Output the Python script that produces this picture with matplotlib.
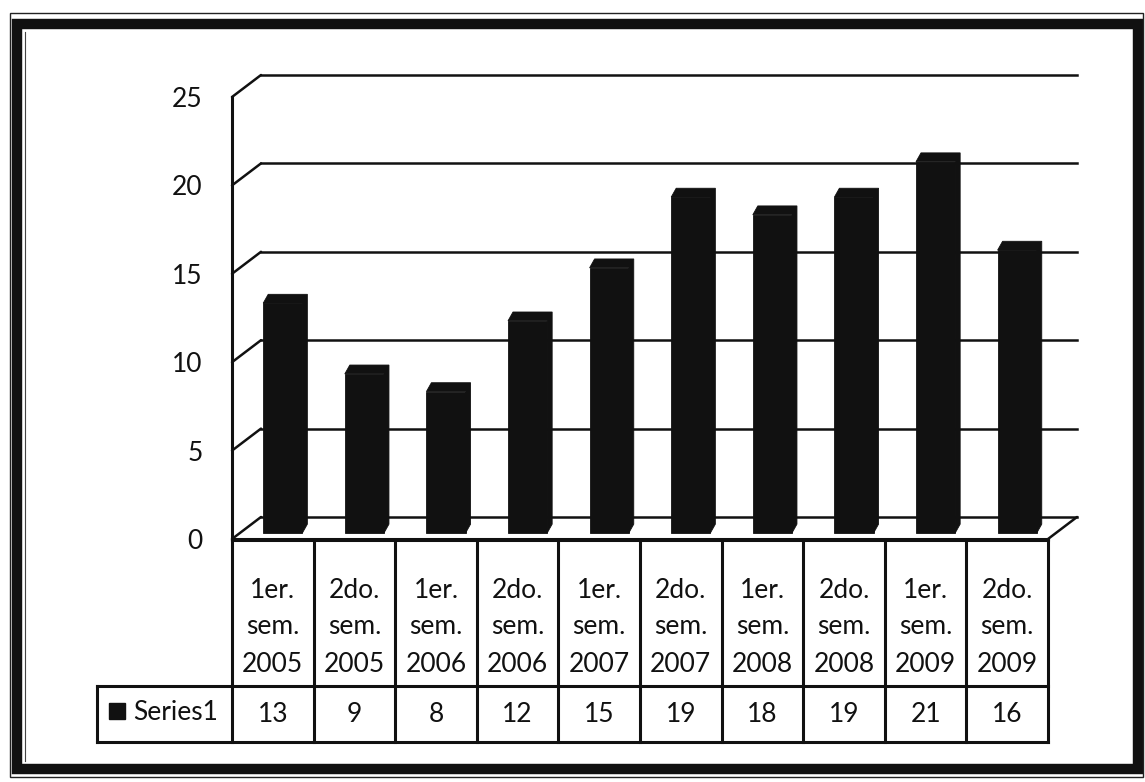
# Gráfico de columnas 3D estilo Excel con tabla de datos
import matplotlib
matplotlib.use('Agg')
import matplotlib.pyplot as plt
from matplotlib.transforms import ScaledTranslation
from matplotlib.patches import ConnectionPatch, Rectangle

plt.rcParams['font.family'] = ['Lato', 'DejaVu Sans']

# datos
semestres = ['1er.', '2do.', '1er.', '2do.', '1er.', '2do.', '1er.', '2do.', '1er.', '2do.']
anios = ['2005', '2005', '2006', '2006', '2007', '2007', '2008', '2008', '2009', '2009']
valores = [13, 9, 8, 12, 15, 19, 18, 19, 21, 16]
serie = 'Series1'
yticks = [0, 5, 10, 15, 20, 25]

W, H = 1145, 782
fig = plt.figure(figsize=(W / 100, H / 100), dpi=100)
negro = '#111111'


def caja(x0, y0, x1, y1):
    # pixeles (origen arriba-izq) -> fracción de figura
    return [x0 / W, 1 - y1 / H, (x1 - x0) / W, (y1 - y0) / H]


n = len(valores)
ax = fig.add_axes(caja(232, 97, 1048, 539))
ax.patch.set_visible(False)
for s in ['top', 'right', 'bottom']:
    ax.spines[s].set_visible(False)
ax.spines['left'].set_linewidth(2.2)
ax.spines['left'].set_color(negro)

# pared del fondo (desplazada) y diagonales laterales
fondo = ax.transData + ScaledTranslation(0.29, 0.22, fig.dpi_scale_trans)
for t in yticks:
    ax.plot([-0.5, n - 0.5], [t, t], color=negro, lw=1.8, transform=fondo,
            zorder=1, clip_on=False)
    fig.add_artist(ConnectionPatch((-0.5, t), (-0.5, t), coordsA=ax.transData,
                                   coordsB=fondo, color=negro, lw=1.8))
fig.add_artist(ConnectionPatch((n - 0.5, 0), (n - 0.5, 0), coordsA=ax.transData,
                               coordsB=fondo, color=negro, lw=1.8))
ax.plot([-0.5, n - 0.5], [0, 0], color=negro, lw=2.2, clip_on=False, zorder=2)

# columnas
ancho = 0.48
ddx, ddy = 0.061, 0.5
tr_barra = ax.transData + ScaledTranslation(0.10, 0.06, fig.dpi_scale_trans)
xs = list(range(n))
ax.bar(xs, valores, width=ancho, color=negro, ec=negro, lw=0.6,
       transform=tr_barra, zorder=3)
for x, v in zip(xs, valores):
    l, r = x - ancho / 2, x + ancho / 2
    ax.fill([l, l + ddx, r + ddx, r + ddx, r, r], [v, v + ddy, v + ddy, ddy, 0, v],
            fc=negro, ec=negro, lw=0.6, transform=tr_barra, zorder=3)

ax.set_xlim(-0.5, n - 0.5)
ax.set_ylim(0, 25)
ax.set_xticks([])
ax.set_yticks(yticks)
ax.tick_params(axis='y', length=0, pad=21, labelsize=19, labelcolor=negro)

# tabla de datos
tab = fig.add_axes(caja(232, 540, 1048, 743))
tab.set_xlim(-0.5, n - 0.5)
tab.set_ylim(743, 540)
tab.axis('off')
izq = -0.5 - 135 / 81.6
lk = dict(color=negro, lw=2.2, clip_on=False)
tab.plot([-0.5, n - 0.5], [540, 540], **lk)
tab.plot([izq, n - 0.5], [686, 686], **lk)
tab.plot([izq, n - 0.5], [742, 742], **lk)
tab.plot([izq, izq], [686, 742], **lk)
for i in range(n + 1):
    tab.plot([i - 0.5, i - 0.5], [540, 742], **lk)

for i in range(n):
    for y, txt in zip([590, 627, 665], [semestres[i], 'sem.', anios[i]]):
        tab.text(i, y, txt, ha='center', va='center', fontsize=19, color=negro)
    tab.text(i, 714, str(valores[i]), ha='center', va='center', fontsize=19,
             color=negro)

tab.plot([-0.5 - 114.5 / 81.6], [711], marker='s', ms=11, color=negro, clip_on=False)
tab.text(-0.5 - 99 / 81.6, 713, serie, ha='left', va='center', fontsize=19,
         color=negro)

# marco exterior
fig.add_artist(Rectangle((17 / W, 1 - 769 / H), (1137.5 - 17) / W, (769 - 24) / H,
                         transform=fig.transFigure, fill=False, lw=7.5, ec=negro))
fig.add_artist(Rectangle((10 / W, 1 - 777 / H), (1143 - 10) / W, (777 - 13) / H,
                         transform=fig.transFigure, fill=False, lw=1.0, ec='#222222'))
fig.add_artist(plt.Line2D([25 / W, 25 / W], [1 - 761 / H, 1 - 32 / H],
                          transform=fig.transFigure, lw=0.8, color='#444444'))

fig.savefig('out.png', dpi=100)
